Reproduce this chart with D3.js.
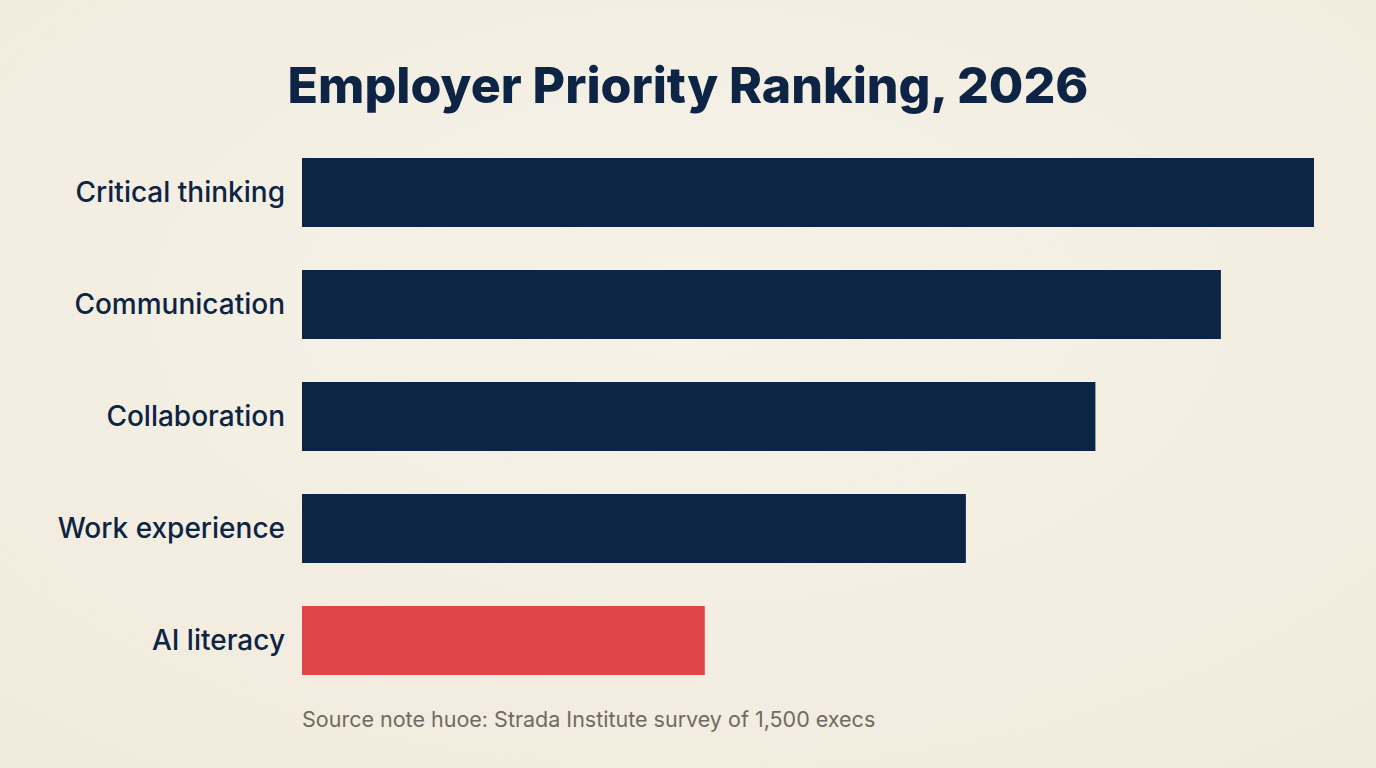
<!DOCTYPE html>
<html>
<head>
<meta charset="utf-8">
<title>Employer Priority Ranking, 2026</title>
<style>
  html, body { margin: 0; padding: 0; background: #f3eee3; }
  svg { display: block; font-family: Inter, "Noto Sans", sans-serif; }
  .label { font-size: 28px; font-weight: 500; fill: #0d2444; }
  .title { font-size: 50px; font-weight: 800; fill: #0d2444; }
  .source { font-size: 21.5px; fill: #6f6b60; }
</style>
</head>
<body>
<script src="https://cdnjs.cloudflare.com/ajax/libs/d3/7.8.5/d3.min.js"></script>
<script>
var skills = ["Critical thinking", "Communication", "Collaboration", "Work experience", "AI literacy"];
var scores = [100, 90.8, 78.4, 65.6, 39.8];
var highlight = ["AI literacy"];

var width = 1376, height = 768;

var svg = d3.select("body").append("svg")
    .attr("width", width)
    .attr("height", height);

var grad = svg.append("defs").append("radialGradient")
    .attr("id", "bg").attr("cx", "50%").attr("cy", "40%").attr("r", "75%");
grad.append("stop").attr("offset", "0%").attr("stop-color", "#f6f2e8");
grad.append("stop").attr("offset", "100%").attr("stop-color", "#f1ebdd");
svg.append("rect").attr("width", width).attr("height", height).attr("fill", "url(#bg)");

var x = d3.scaleLinear().domain([0, 100]).range([302, 1314]);

var y = d3.scaleBand()
    .domain(skills)
    .range([136.5, 696.5])
    .paddingInner(0.384)
    .paddingOuter(0.192);

svg.append("text")
    .attr("class", "title")
    .attr("x", 688).attr("y", 103)
    .attr("text-anchor", "middle")
    .text("Employer Priority Ranking, 2026");

svg.selectAll(".bar")
    .data(skills)
    .enter().append("rect")
    .attr("class", "bar")
    .attr("x", x(0))
    .attr("y", function(d) { return y(d); })
    .attr("width", function(d, i) { return x(scores[i]) - x(0); })
    .attr("height", y.bandwidth())
    .attr("fill", function(d) { return highlight.indexOf(d) >= 0 ? "#e04548" : "#0c2545"; });

svg.selectAll(".label")
    .data(skills)
    .enter().append("text")
    .attr("class", "label")
    .attr("x", 285)
    .attr("y", function(d) { return y(d) + y.bandwidth() / 2; })
    .attr("dy", "0.35em")
    .attr("text-anchor", "end")
    .text(function(d) { return d; });

svg.append("text")
    .attr("class", "source")
    .attr("x", 302).attr("y", 727)
    .text("Source note huoe: Strada Institute survey of 1,500 execs");
</script>
</body>
</html>
